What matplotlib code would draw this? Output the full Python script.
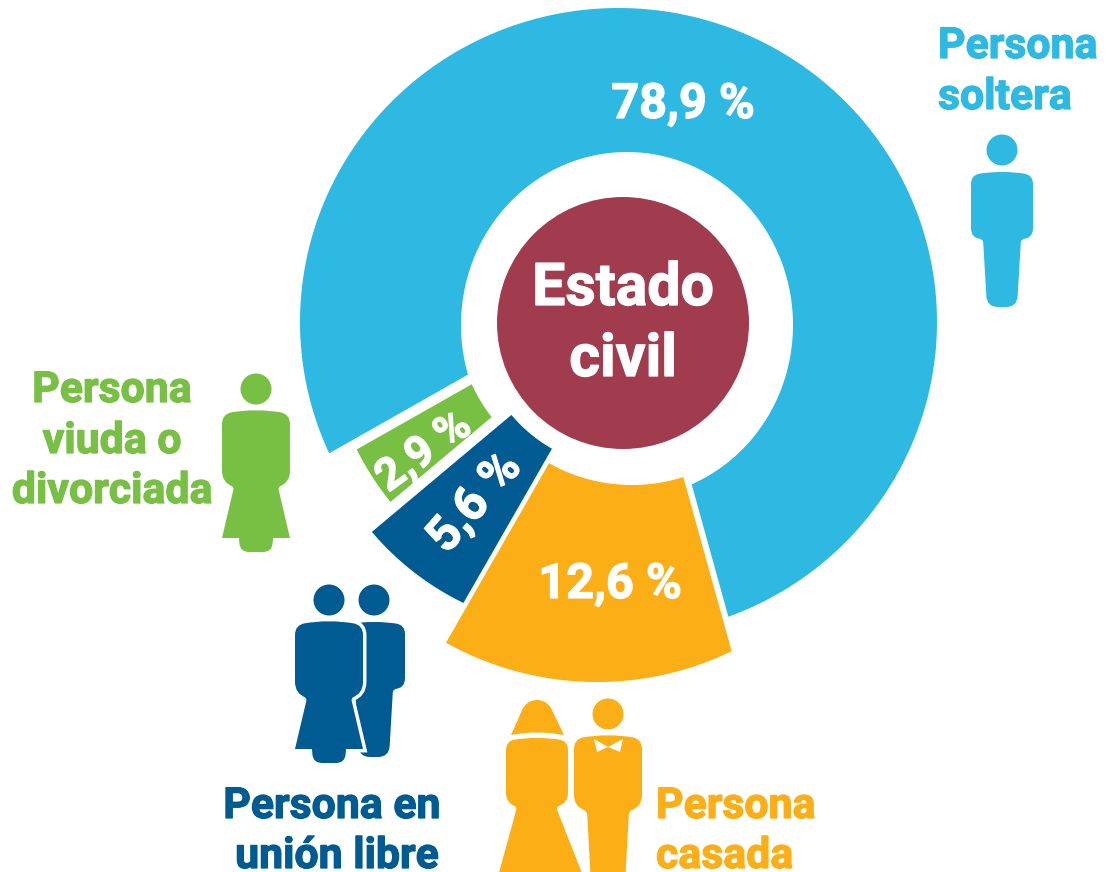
import numpy as np
import matplotlib
matplotlib.use("Agg")
import matplotlib.pyplot as plt
import matplotlib.patheffects as pe
from matplotlib.patches import Circle, PathPatch
from matplotlib.path import Path

# Estado civil, share of people (%)
categories = ["Persona soltera", "Persona viuda o divorciada", "Persona en unión libre", "Persona casada"]
values = [78.9, 2.9, 5.6, 12.6]
value_labels = ["78,9 %", "2,9 %", "5,6 %", "12,6 %"]

BLUE, GREEN, NAVY, ORANGE = "#2DB9E2", "#77C043", "#005B92", "#FCAE17"
MAROON = "#A13C4F"
W, H = 1119, 872
START = -74.5

# apex, inner ellipse, outer ellipse for each slice (pixels, ellipses are cx, cy, rx, ry)
slice_shape = [
    ((635, 280), (627, 325, 166, 173), (618.5, 322, 318.5, 314)),
    ((654, 281), (622, 316, 165, 165), (622, 316, 297, 297)),
    ((627, 318), (625, 320, 148, 148), (585.6, 351, 280, 280)),
    ((637, 310), (632, 316, 169, 169), (597, 372, 310, 310)),
]
slice_colors = [BLUE, GREEN, NAVY, ORANGE]

# template outlines, relative to the head centre: x, y, corner radius
MAN = [(-31, 25, 9), (-31, 89, 11), (-19, 89, 4), (-15, 157, 11), (15, 157, 11),
       (19, 89, 4), (31, 89, 11), (31, 25, 9), (0, 20, 24)]
WOMAN = [(-34, 25, 10), (-34, 94, 12), (-22, 98, 3), (-34, 149, 0), (-17, 149, 0),
         (-16, 163, 9), (16, 163, 9), (17, 149, 0), (34, 149, 0), (22, 98, 3),
         (34, 94, 12), (34, 25, 10), (0, 19, 26)]
BRIDE = [(-31, 25, 9), (-31, 87, 10), (-20, 91, 3), (-43, 175, 0), (52, 175, 0),
         (19, 91, 3), (31, 87, 10), (31, 25, 9), (0, 20, 24)]
GROOM = [(-34, 25, 10), (-34, 93, 12), (-21, 97, 4), (-17, 170, 0), (17, 170, 0),
         (21, 97, 4), (34, 93, 12), (34, 25, 10), (0, 19, 26)]
VEIL = [(-26, 19, 0), (-14, -8, 2), (-8, -16, 8), (8, -16, 8), (14, -8, 2), (27, 19, 0), (0, 15, 20)]
BOW = [[(-14, 25), (0, 33), (-11, 38)], [(15, 25), (0, 33), (12, 38)]]

plt.rcParams["font.family"] = ["Roboto", "DejaVu Sans"]
fig = plt.figure(figsize=(W / 100, H / 100), dpi=100)
ax = fig.add_axes([0, 0, 1, 1])
ax.set_xlim(0, W)
ax.set_ylim(H, 0)
ax.axis("off")


def hit(apex, deg, ell):
    # where a ray from the apex leaves the ellipse, as ellipse parameter
    cx, cy, rx, ry = ell
    a = np.radians(deg)
    px, py = (apex[0] - cx) / rx, (apex[1] - cy) / ry
    dx, dy = np.cos(a) / rx, -np.sin(a) / ry
    A, B, C = dx * dx + dy * dy, px * dx + py * dy, px * px + py * py - 1
    s = (-B + np.sqrt(B * B - A * C)) / A
    return np.arctan2(-(py + s * dy), px + s * dx)


def arc(ell, t1, t2):
    cx, cy, rx, ry = ell
    if t2 < t1:
        t2 += 2 * np.pi
    t = np.linspace(t1, t2, 200)
    return np.column_stack([cx + rx * np.cos(t), cy - ry * np.sin(t)])


def draw_slice(a1, a2, shape, color):
    apex, inner, outer = shape
    pts_out = arc(outer, hit(apex, a1, outer), hit(apex, a2, outer))
    pts_in = arc(inner, hit(apex, a1, inner), hit(apex, a2, inner))[::-1]
    ax.fill(*np.vstack([pts_out, pts_in]).T, color=color, lw=0)


def rounded(points, x0, y0):
    verts, codes = [], []
    n = len(points)
    for i, (x, y, r) in enumerate(points):
        p = np.array([x, y], float)
        prev = np.array(points[i - 1][:2], float)
        nxt = np.array(points[(i + 1) % n][:2], float)
        if r:
            a = p + (prev - p) / np.linalg.norm(prev - p) * r
            b = p + (nxt - p) / np.linalg.norm(nxt - p) * r
            verts += [a, p, b]
            codes += [Path.LINETO, Path.CURVE3, Path.CURVE3]
        else:
            verts.append(p)
            codes.append(Path.LINETO)
    codes[0] = Path.MOVETO
    verts.append(verts[0])
    codes.append(Path.CLOSEPOLY)
    return Path(np.array(verts) + [x0, y0], codes)


def person(x, y, outline, color, head=True, edge=None):
    if head:
        ax.add_patch(Circle((x, y), 15.5, color=color, lw=0))
    if edge:
        ax.add_patch(PathPatch(rounded(outline, x, y), fc=edge, ec=edge, lw=5))
    ax.add_patch(PathPatch(rounded(outline, x, y), fc=color, lw=0))


def label(x, y, s, color, size=30.8, **kw):
    # Roboto Bold is a little lighter than the original, thicken it
    kw.setdefault("ha", "center")
    kw.setdefault("va", "baseline")
    ax.text(x, y, s, color=color, fontsize=size, fontweight="bold",
            path_effects=[pe.withStroke(linewidth=0.9, foreground=color)], **kw)


# slices, angles come from the values
angle = START
for val, shape, col in zip(values, slice_shape, slice_colors):
    sweep = val / sum(values) * 360
    draw_slice(angle, angle + sweep, shape, col)
    angle += sweep

ax.add_patch(Circle((623, 323), 126, color=MAROON, lw=0))
label(623, 305, "Estado", "white", size=42.5)
label(623, 376, "civil", "white", size=42.5)

# values on the slices
label(683, 118, value_labels[0], "white", size=35)
label(424, 452, value_labels[1], "white", size=32, va="center", rotation=36, rotation_mode="anchor")
label(475, 503, value_labels[2], "white", size=35, va="center", rotation=49, rotation_mode="anchor")
label(610, 598, value_labels[3], "white", size=35)

# category names
label(938, 58, "Persona", BLUE, ha="left")
label(938, 109, "soltera", BLUE, ha="left")
label(112, 402, "Persona", GREEN)
label(112, 453, "viuda o", GREEN)
label(112, 503, "divorciada", GREEN)
label(332, 818, "Persona en", NAVY)
label(337, 868, "unión libre", NAVY)
label(656, 818, "Persona", ORANGE, ha="left")
label(656, 868, "casada", ORANGE, ha="left")

# pictograms
person(1002, 150, MAN, BLUE)
person(256, 389, WOMAN, GREEN)
person(374, 600, MAN, NAVY)
person(329, 600, WOMAN, NAVY, edge="white")
person(537, 716, BRIDE, ORANGE, head=False)
ax.add_patch(PathPatch(rounded(VEIL, 537, 716), fc=ORANGE, lw=0))
person(608, 714, GROOM, ORANGE)
for bow in BOW:
    ax.fill(*(np.array(bow) + [608, 714]).T, color="white", lw=0)

fig.savefig("out.png", dpi=100)
